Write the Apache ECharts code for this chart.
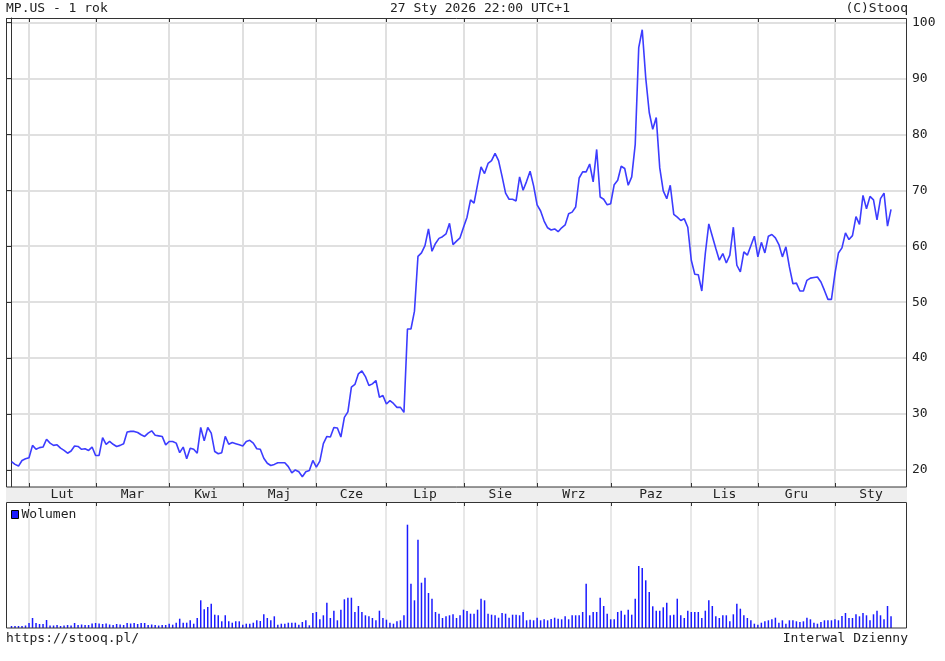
<!DOCTYPE html>
<html><head><meta charset="utf-8">
<script src="https://cdn.jsdelivr.net/npm/echarts@6/dist/echarts.min.js"></script>
<style>html,body{margin:0;padding:0;background:#fff}#c{width:945px;height:661px}</style>
</head><body><div id="c"></div>
<script>
// ---- data ----
const monthLabels = ['Lut','Mar','Kwi','Maj','Cze','Lip','Sie','Wrz','Paz','Lis','Gru','Sty'];
// index (trading day) of first session of each month
const monthStarts = [5,24,45,66,87,107,129,150,171,194,213,235];
const priceTicks = [20,30,40,50,60,70,80,90,100];
const prices = [
21.5,21.0,20.7,21.7,22.0, 22.2,24.4,23.7,24.0,24.1,
25.5,24.8,24.4,24.5,23.9, 23.5,23.0,23.4,24.3,24.2,
23.7,23.8,23.5,24.1,22.6, 22.6,25.8,24.6,25.1,24.6,
24.2,24.4,24.7,26.8,26.9, 26.9,26.7,26.3,26.0,26.6,
27.0,26.2,26.1,26.0,24.5, 25.1,25.1,24.8,23.1,24.1,
22.0,23.9,23.7,23.0,27.6, 25.2,27.6,26.6,23.3,22.9,
23.1,26.0,24.6,24.9,24.7, 24.5,24.3,25.1,25.3,24.8,
23.8,23.7,22.1,21.2,20.8, 21.0,21.3,21.3,21.3,20.6,
19.5,20.0,19.7,18.8,19.7, 19.9,21.7,20.5,21.6,24.7,
26.0,25.9,27.6,27.5,25.9, 29.4,30.4,34.8,35.3,37.2,
37.7,36.7,35.1,35.4,36.0, 33.0,33.3,31.8,32.4,31.9,
31.2,31.2,30.3,45.2,45.2, 48.4,58.2,58.8,60.1,63.1,
59.1,60.5,61.4,61.7,62.2, 64.1,60.3,60.9,61.5,63.4,
65.2,68.3,67.7,71.0,74.2, 73.0,74.8,75.3,76.6,75.3,
72.5,69.5,68.4,68.4,68.1, 72.4,70.0,71.6,73.4,70.8,
67.4,66.3,64.5,63.3,62.9, 63.1,62.6,63.3,63.8,65.8,
66.1,67.0,72.2,73.3,73.3, 74.7,71.5,77.3,68.8,68.4,
67.4,67.6,71.0,71.8,74.3, 73.9,70.9,72.4,78.2,95.5,
98.7,90.1,83.9,80.9,83.0, 74.0,69.9,68.5,70.9,65.7,
65.2,64.6,64.9,63.4,57.5, 55.0,54.9,52.0,58.7,64.0,
61.8,59.6,57.5,58.7,57.0, 58.4,63.4,56.6,55.4,59.0,
58.4,60.1,61.8,58.1,60.7, 58.8,61.8,62.1,61.5,60.3,
58.1,59.9,56.3,53.3,53.4, 52.0,52.0,53.9,54.3,54.4,
54.5,53.6,52.1,50.5,50.5, 55.1,58.8,59.7,62.4,61.2,
61.9,65.3,63.9,69.1,66.7, 68.9,68.3,64.7,68.5,69.5,
63.6,66.6
];
const volumes = [
2,2,2,2,2.5, 5,10,5,4,4,
8,2.5,2.5,3,2, 2.5,3,2.5,5,3,
3.5,3,3,4.5,5, 4.5,4,4.5,3.5,3,
4,3.5,3,5,4.5, 5,4,5,5,3,
3.5,3,2.5,3,3, 4.3,3.3,5.3,
9.3,5.3,5.3,7.7,4.3,10,27.7,18.7,21,24.3,
13.3,12.7,6.7,12.7,6.7,5.3,6.7,6.7,3.3,4.3,
4.3,5.3,7.7,7,13.7,10,7.7,11.7,3.3,4.3,
4.3,5.3,5.3,5.3,3.3,6,7.7,2.7,15,16,
8.7,12.7,25.3,10,17.3,7.7,18.3,28.7,30.3,30.3,
16,22,16,12.7,11.7,10,7.7,17.3,10,8.3,
5.3,4.3,6.7,7.7,12.7,103.3,
44.3,27.7,88.3,45.3,50.3,35,29.3,16,14.3,10,
11.7,12.7,13.7,10,12.7,18.3,17,14.3,14.3,18.3,
29.3,27.7,14.3,13.3,12.7,10.3,15,14.3,10.3,13.3,
13.3,12.7,16,7.7,8.3,7.7,10.3,7.7,8.7,7.7,
9,10.3,9.3,8.7,11.7,8.7,12.7,12.7,12.7,16,
44.3,12.7,16,16,30.3,22,14.3,8.7,8.7,16,
17.3,13.3,18.3,13.3,29.3,62,60,47.7,36,21.7,
17.3,17.3,20.7,25.3,12.7,13.3,29.3,12.7,10,17.3,
16,16,16,10,17.3,27.7,22,11.7,10,12.7,
12.7,6.7,13.7,24.3,19.3,12.7,10,7.7,4.3,3.3,
5.3,6.7,7.7,8.7,10.3,5.3,7.7,4.3,7.7,7.7,
6.7,6,6.7,10.3,8.7,5.3,4.3,6,7.7,7.7,
7.7,8.7,7.7,12,15,10,10,13.7,11.7,15,
12.7,7.7,13.7,17.3,12.7,8.7,22,11.7
];

// ---- layout ----
const X_MIN = -1.57, X_MAX = 255.56;
const Y_MIN = 16.96, Y_MAX = 100.8;
const FONT = 'DejaVu Sans Mono';
const TXT = '#222';
const GRID_C = '#e0e0e0';
const FRAME = '#333';

const monthData = monthStarts.map((s, k) => {
  const next = k + 1 < monthStarts.length ? monthStarts[k + 1] : X_MAX;
  return [s, (s + next) / 2];
});

const chart = echarts.init(document.getElementById('c'), null, {renderer: 'canvas'});

const mainDecor = function (params, api) {
  const cs = params.coordSys;
  const x = Math.round(api.coord([api.value(0), Y_MIN])[0]);
  const xm = api.coord([api.value(1), Y_MIN])[0];
  const bottom = cs.y + cs.height;
  return {
    type: 'group',
    children: [
      {type: 'line', shape: {x1: x, y1: cs.y + 1, x2: x, y2: bottom - 1}, style: {stroke: GRID_C, lineWidth: 2}, z2: 0},
      {type: 'line', shape: {x1: x + 0.5, y1: cs.y, x2: x + 0.5, y2: cs.y + 4}, style: {stroke: FRAME, lineWidth: 1}, z2: 5},
      {type: 'line', shape: {x1: x + 0.5, y1: bottom - 4, x2: x + 0.5, y2: bottom}, style: {stroke: FRAME, lineWidth: 1}, z2: 5},
      {type: 'line', shape: {x1: x + 0.5, y1: bottom + 15, x2: x + 0.5, y2: bottom + 19}, style: {stroke: FRAME, lineWidth: 1}, z2: 5},
      {type: 'text', x: xm, y: bottom + 8, style: {text: monthLabels[params.dataIndex], align: 'center', verticalAlign: 'middle', font: '13px "' + FONT + '"', fill: TXT}, z2: 6}
    ]
  };
};
const volDecor = function (params, api) {
  const cs = params.coordSys;
  const x = Math.round(api.coord([api.value(0), 0])[0]);
  return {
    type: 'line', shape: {x1: x, y1: cs.y + 1, x2: x, y2: cs.y + cs.height - 1},
    style: {stroke: GRID_C, lineWidth: 1.5}
  };
};

const titleStyle = {fontFamily: FONT, fontSize: 13, fontWeight: 'normal', color: TXT};

chart.setOption({
  animation: false,
  backgroundColor: '#fff',
  title: [
    {text: 'MP.US - 1 rok', left: 6, top: 2, padding: 0, textStyle: titleStyle},
    {text: '27 Sty 2026 22:00 UTC+1', left: 390, top: 2, padding: 0, textStyle: titleStyle},
    {text: '(C)Stooq', right: 37, top: 2, padding: 0, textStyle: titleStyle},
    {text: 'https://stooq.pl/', left: 6, top: 632, padding: 0, textStyle: titleStyle},
    {text: 'Interwal Dzienny', right: 37, top: 632, padding: 0, textStyle: titleStyle}
  ],
  legend: {
    data: ['Wolumen'], left: 11, top: 508, padding: 0, icon: 'rect',
    itemWidth: 7, itemHeight: 8, itemGap: 4,
    itemStyle: {borderColor: '#000', borderWidth: 1},
    textStyle: {fontFamily: FONT, fontSize: 13, color: TXT, padding: [0, 0, 0, -2]}
  },
  graphic: [
    {type: 'rect', shape: {x: 6, y: 487, width: 901, height: 15}, style: {fill: '#eeeeee'}, z: 1, silent: true},
    {type: 'rect', shape: {x: 6.5, y: 18.5, width: 900, height: 468.5}, style: {fill: null, stroke: FRAME, lineWidth: 1}, z: 50, silent: true},
    {type: 'rect', shape: {x: 6.5, y: 502.5, width: 900, height: 125.5}, style: {fill: null, stroke: FRAME, lineWidth: 1}, z: 50, silent: true}
  ],
  grid: [
    {left: 6, top: 18, width: 901, height: 469, show: false},
    {left: 6, top: 502, width: 901, height: 126, show: false}
  ],
  xAxis: [
    {gridIndex: 0, type: 'value', min: X_MIN, max: X_MAX, show: false},
    {gridIndex: 1, type: 'value', min: X_MIN, max: X_MAX, show: false}
  ],
  yAxis: [
    {gridIndex: 0, type: 'value', position: 'right', min: Y_MIN, max: Y_MAX, splitNumber: 8,
     axisLine: {show: true, lineStyle: {color: FRAME, width: 1}},
     axisTick: {show: true, inside: true, length: 4, lineStyle: {color: FRAME}},
     axisLabel: {show: true, margin: 5, showMinLabel: false, showMaxLabel: false,
       fontFamily: FONT, fontSize: 13, color: TXT,
       formatter: v => priceTicks.indexOf(Math.round(v * 100) / 100) >= 0 ? String(Math.round(v)) : ''},
     splitLine: {show: true, showMinLine: false, showMaxLine: false, lineStyle: {color: GRID_C, width: 2}}},
    {gridIndex: 0, type: 'value', position: 'left', min: Y_MIN, max: Y_MAX, splitNumber: 8,
     axisLine: {show: false},
     axisTick: {show: true, inside: true, length: 4, lineStyle: {color: FRAME}},
     axisLabel: {show: false}, splitLine: {show: false}},
    {gridIndex: 1, type: 'value', min: 0, max: 126, show: false, splitLine: {show: false}}
  ],
  series: [
    {type: 'custom', name: 'months', xAxisIndex: 0, yAxisIndex: 0, z: 2, silent: true,
     renderItem: mainDecor, data: monthData, clip: false},
    {type: 'line', name: 'MP.US', xAxisIndex: 0, yAxisIndex: 0, z: 5,
     data: prices.map((v, i) => [i, v]), showSymbol: false, symbol: 'none',
     lineStyle: {color: '#3c3cff', width: 1.6}, itemStyle: {color: '#3c3cff'}},
    {type: 'custom', name: 'volgrid', xAxisIndex: 1, yAxisIndex: 2, z: 2, silent: true,
     renderItem: volDecor, data: monthStarts.map(s => [s])},
    {type: 'bar', name: 'Wolumen', xAxisIndex: 1, yAxisIndex: 2, z: 5,
     data: volumes.map((v, i) => [i, v]), barWidth: 1.5,
     itemStyle: {color: '#1a1aff'}}
  ]
});
</script></body></html>
